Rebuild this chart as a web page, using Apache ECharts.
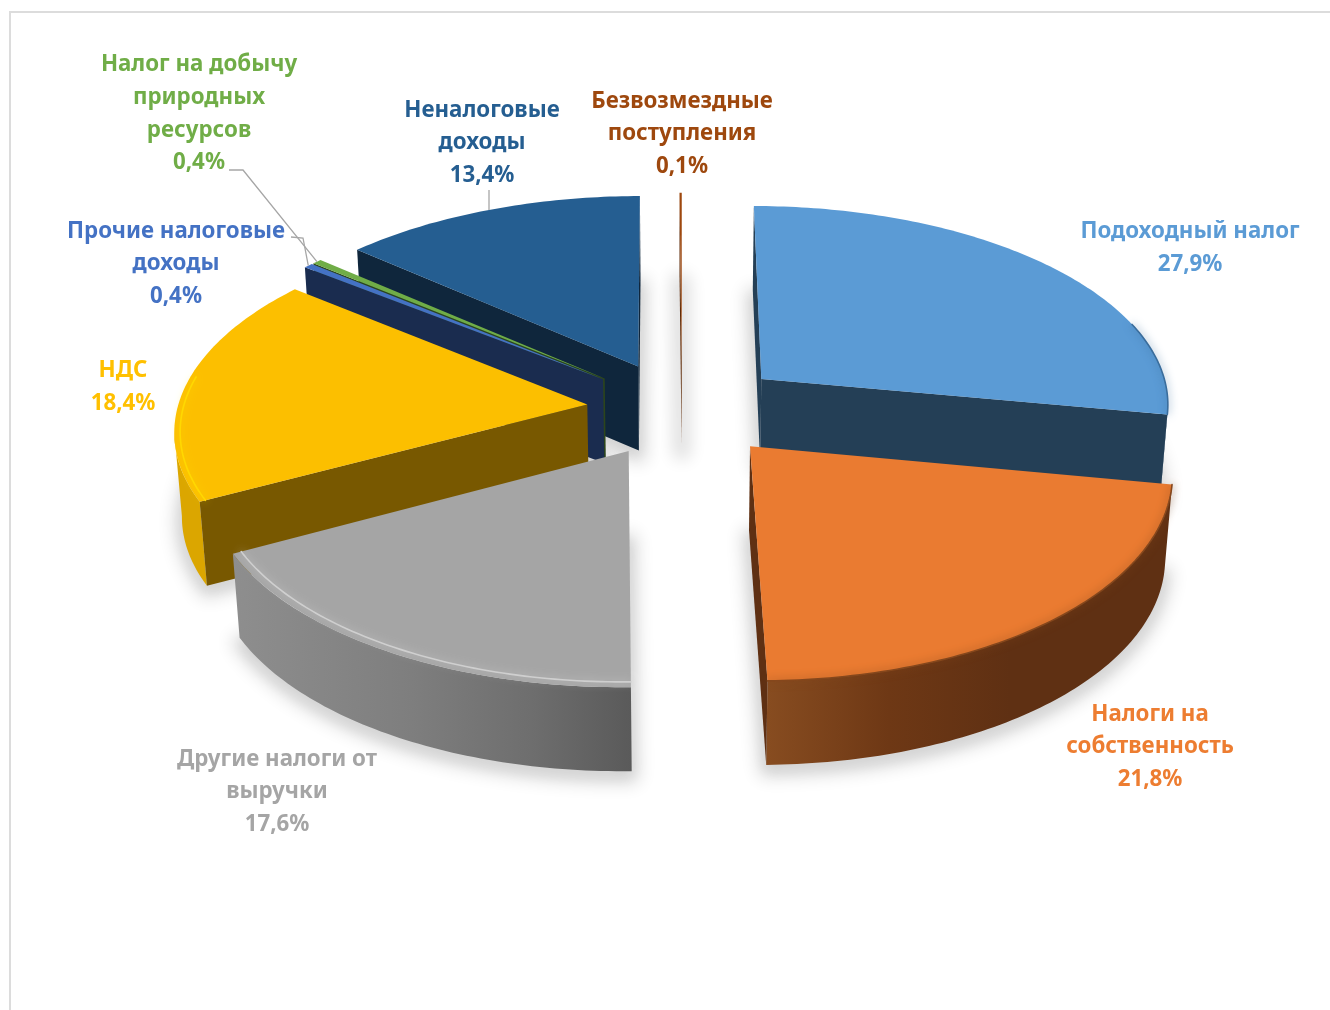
<!DOCTYPE html>
<html lang="ru">
<head>
<meta charset="UTF-8">
<title>Структура доходов</title>
<script src="https://cdn.jsdelivr.net/npm/echarts@6/dist/echarts.min.js"></script>
<style>
    html, body { margin: 0; padding: 0; background: #fff; }
    #main { position: absolute; left: 0; top: 0; width: 1330px; height: 1010px; }
    #frame { position: absolute; left: 9px; top: 11px; right: 0; bottom: 0; border-top: 2px solid #dcdcdc; border-left: 2px solid #dcdcdc; }
</style>
</head>
<body>
<div id="frame"></div>
<div id="main" style="width:1330px;height:1010px"></div>
<script>
    // data, clockwise from 12 o'clock
    var categories = ['Подоходный налог', 'Налоги на\nсобственность', 'Другие налоги от\nвыручки', 'НДС',
        'Прочие налоговые\nдоходы', 'Налог на добычу\nприродных\nресурсов', 'Неналоговые\nдоходы', 'Безвозмездные\nпоступления'];
    var values = [27.9, 21.8, 17.6, 18.4, 0.4, 0.4, 13.4, 0.1];

    // colours
    var topColors = ['#5B9BD5', '#EA7B31', '#A5A5A5', '#FCBF00', '#4472C4', '#70AD47', '#255E91', '#9E480E'];
    var cutColors = ['#243F56', '#5F3013', '#666666', '#785800', '#1A2C4F', '#2C451C', '#0F263C', '#5F2B08'];
    var textColors = ['#5B9BD5', '#ED7D31', '#A5A5A5', '#FFC000', '#4472C4', '#70AD47', '#255E91', '#9E480E'];
    var wallStops = [
        [[0, '#2C4A66'], [1, '#2C4A66']],
        [[0, '#874C20'], [0.3, '#6E3815'], [0.6, '#5F3013'], [1, '#5F3013']],
        [[0, '#8E8E8E'], [0.45, '#7E7E7E'], [0.75, '#6E6E6E'], [1, '#5A5A5A']],
        [[0, '#DBA600'], [1, '#DBA600']],
        [[0, '#1A2C4F'], [1, '#1A2C4F']],
        [[0, '#2C451C'], [1, '#2C451C']],
        [[0, '#0F263C'], [1, '#0F263C']],
        [[0, '#5F2B08'], [1, '#5F2B08']]
    ];

    // bevel along the rim: colour, inset, part of the arc it covers
    var rimColors = ['#3A6D9C', '#85471C', '#CFCFCF', '#FFD800', null, null, null, null];
    var rimInset = [0, 0, 0.02, 0.014, 0, 0, 0, 0];
    var rimPart = [[0.72, 1], [0, 1], [0, 1], [0, 0.55], null, null, null, null];

    // label layout (centre of the text block, leader line start)
    var labelCenters = [[1190, 248], [1150, 747], [277, 792], [123, 387], [176, 264], [199, 114], [482, 143], [682, 134]];
    var leaders = [null, null, null, null, [[291, 237], [303, 238]], [[229, 170], [243, 170]], [[489, 190]], null];

    // pie projection
    var cx = 683, y0 = 409, R = 410, H = 199, K = 0.1136, EXPLODE = 0.24, DEPTH = 84, NARROW = 0.985;
    var sliceShift = [4, 2, -3, 2, -5, -5, -5, -1];
    var sliceWiden = [1, 1, 1, 1, 1.028, 1.028, 1.015, 1];

    var total = values.reduce(function (a, b) { return a + b; }, 0);
    var starts = [];
    values.reduce(function (acc, v, i) { starts[i] = acc; return acc + v; }, 0);

    function project(X, Z) {
        var s = 1 / (1 + K * Z);
        return [cx + X * R * s, y0 - H * Z * s];
    }
    function lower(p) {
        return [cx + (p[0] - cx) * NARROW, p[1] + DEPTH];
    }
    function faces(p, q) {
        // visible wall: top edge runs leftwards on screen when walking clockwise
        return q[0] < p[0];
    }
    function quad(top) {
        return top.concat(top.map(lower).reverse());
    }

    function renderItem(params, api) {
        var i = params.dataIndex;
        var value = api.value(0);
        var a0 = starts[i] / total * Math.PI * 2;
        var a1 = (starts[i] + value) / total * Math.PI * 2;
        var mid = (a0 + a1) / 2;
        var ox = EXPLODE * Math.sin(mid), oz = EXPLODE * Math.cos(mid);
        var order = Math.round((1 - Math.cos(mid)) * 100) * 10 + 100;

        function rimPoint(a, r) {
            var p = project(ox + r * sliceWiden[i] * Math.sin(a), oz + r * Math.cos(a));
            return [p[0] + sliceShift[i], p[1]];
        }
        var apex = rimPoint(0, 0);
        var steps = Math.max(2, Math.ceil((a1 - a0) * 60));
        var rim = [], inner = [];
        for (var k = 0; k <= steps; k++) {
            var a = a0 + (a1 - a0) * k / steps;
            rim.push(rimPoint(a, 1));
            if (rimPart[i] && k / steps >= rimPart[i][0] && k / steps <= rimPart[i][1]) {
                inner.push(rimPoint(a, 1 - rimInset[i]));
            }
        }
        var top = [apex].concat(rim);
        var children = [];

        // soft shadow below the slice: the shape itself sits off the page, only its blur lands here
        children.push({
            type: 'polygon', z2: 1,
            shape: { points: top.map(lower).map(function (p) { return [p[0] - 3000, p[1] + 5]; }) },
            style: { fill: '#000', stroke: '#000', lineWidth: 18, lineJoin: 'round', shadowBlur: 16, shadowOffsetX: 3000, shadowColor: 'rgba(0,0,0,0.12)' },
            silent: true
        });

        // outer wall, only the runs that face the viewer
        var run = [];
        function flush() {
            if (run.length > 1) {
                children.push({
                    type: 'polygon', z2: order + 1,
                    shape: { points: quad(run) },
                    style: {
                        fill: new echarts.graphic.LinearGradient(run[run.length - 1][0], 0, run[0][0], 0,
                            wallStops[i].map(function (s) { return { offset: s[0], color: s[1] }; }), true)
                    }
                });
            }
            run = [];
        }
        for (k = 0; k < rim.length - 1; k++) {
            if (faces(rim[k], rim[k + 1])) {
                if (!run.length) run.push(rim[k]);
                run.push(rim[k + 1]);
            } else {
                flush();
            }
        }
        flush();

        // cut faces
        if (faces(apex, rim[0])) {
            children.push({ type: 'polygon', z2: order + 2, shape: { points: quad([apex, rim[0]]) }, style: { fill: cutColors[i] } });
        }
        if (faces(rim[rim.length - 1], apex)) {
            children.push({ type: 'polygon', z2: order + 2, shape: { points: quad([rim[rim.length - 1], apex]) }, style: { fill: cutColors[i] } });
        }

        // top face
        children.push({ type: 'polygon', z2: order + 3, shape: { points: top }, style: { fill: topColors[i] } });

        // bevel along the rim
        if (rimColors[i]) {
            children.push({
                type: 'polyline', z2: order + 4,
                shape: { points: inner },
                style: { fill: 'none', stroke: rimColors[i], lineWidth: 1.6, lineCap: 'round', shadowBlur: 8, shadowColor: rimColors[i] }
            });
        }

        // leader line
        if (leaders[i]) {
            children.push({
                type: 'polyline', z2: 4000,
                shape: { points: leaders[i].concat([rimPoint(mid, 1)]) },
                style: { fill: 'none', stroke: '#A6A6A6', lineWidth: 1.3 }
            });
        }

        // label
        children.push({
            type: 'text', z2: 4001,
            style: {
                text: categories[i] + '\n' + String(value.toFixed(1)).replace('.', ',') + '%',
                x: labelCenters[i][0], y: labelCenters[i][1],
                align: 'center', verticalAlign: 'middle',
                fill: textColors[i],
                fontFamily: 'Noto Sans', fontWeight: 'bold', fontSize: 22.3, lineHeight: 32.6
            }
        });
        return { type: 'group', children: children };
    }

    var chart = echarts.init(document.getElementById('main'), null, { renderer: 'canvas' });
    chart.setOption({
        animation: false,
        series: [{
            type: 'custom',
            coordinateSystem: 'none',
            silent: true,
            renderItem: renderItem,
            data: values.map(function (v) { return [v]; })
        }]
    });
</script>
</body>
</html>
